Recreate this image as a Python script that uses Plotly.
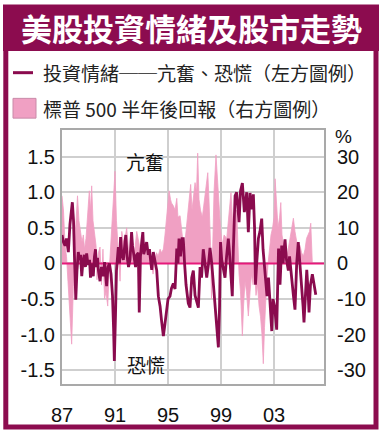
import plotly.graph_objects as go

# ---------------- data ----------------
sent_years = [1987.00, 1987.11, 1987.23, 1987.34, 1987.48, 1987.60, 1987.78, 1987.87, 1987.94, 1988.04,
              1988.13, 1988.23, 1988.32, 1988.40, 1988.49, 1988.58, 1988.68, 1988.77, 1988.86, 1988.96,
              1989.08, 1989.15, 1989.23, 1989.36, 1989.45, 1989.53, 1989.60, 1989.68, 1989.75, 1989.87,
              1989.98, 1990.12, 1990.21, 1990.28, 1990.37, 1990.47, 1990.58, 1990.70, 1990.81, 1990.89,
              1990.95, 1991.04, 1991.11, 1991.25, 1991.34, 1991.42, 1991.51, 1991.63, 1991.72, 1991.81,
              1991.91, 1992.02, 1992.13, 1992.25, 1992.32, 1992.43, 1992.55, 1992.64, 1992.76, 1992.83,
              1992.92, 1993.02, 1993.10, 1993.17, 1993.26, 1993.39, 1993.51, 1993.60, 1993.68, 1993.77,
              1993.89, 1994.02, 1994.15, 1994.27, 1994.40, 1994.51, 1994.65, 1994.77, 1994.89, 1995.00,
              1995.15, 1995.26, 1995.40, 1995.53, 1995.66, 1995.75, 1995.83, 1995.94, 1996.06, 1996.15,
              1996.25, 1996.36, 1996.53, 1996.66, 1996.79, 1996.91, 1997.04, 1997.17, 1997.29, 1997.42,
              1997.53, 1997.66, 1997.79, 1997.92, 1998.06, 1998.17, 1998.30, 1998.43, 1998.55, 1998.68,
              1998.80, 1998.89, 1998.96, 1999.05, 1999.19, 1999.30, 1999.42, 1999.55, 1999.64, 1999.72,
              1999.85, 1999.93, 2000.00, 2000.06, 2000.18, 2000.26, 2000.36, 2000.47, 2000.61, 2000.76,
              2000.94, 2001.06, 2001.19, 2001.32, 2001.44, 2001.53, 2001.60, 2001.69, 2001.82, 2001.94,
              2002.07, 2002.17, 2002.32, 2002.47, 2002.58, 2002.70, 2002.83, 2002.92, 2003.04, 2003.20,
              2003.29, 2003.34, 2003.45, 2003.58, 2003.68, 2003.83, 2003.94, 2004.08, 2004.17, 2004.34,
              2004.46, 2004.58, 2004.71, 2004.83, 2004.96, 2005.09, 2005.19, 2005.26, 2005.38, 2005.47,
              2005.57, 2005.64, 2005.75, 2005.89, 2005.98, 2006.15]
sentiment = [0.40, 0.30, 0.25, 0.35, 0.16, 0.55, 0.86, 0.60, 0.10, -0.51,
             -0.10, 0.16, 0.05, 0.12, -0.18, 0.03, 0.12, -0.05, 0.14, -0.02,
             0.05, -0.20, 0.00, -0.18, 0.10, 0.20, -0.05, 0.08, -0.10, -0.25,
             -0.05, -0.18, 0.02, -0.12, -0.32, -0.05, 0.00, -0.15, -0.45, -0.90,
             -1.37, -0.70, -0.10, 0.23, 0.00, 0.37, 0.12, 0.05, 0.30, 0.40,
             0.10, -0.05, 0.05, 0.44, 0.25, 0.10, -0.05, 0.12, 0.15, -0.69,
             0.10, 0.31, 0.44, 0.13, 0.20, 0.30, 0.12, 0.20, 0.05, -0.09,
             0.16, 0.00, -0.10, -0.46, -0.60, -0.80, -1.02, -0.85, -0.65, -0.50,
             -0.46, -0.35, -0.28, -0.36, 0.21, 0.00, 0.35, 0.10, 0.35, 0.35,
             0.00, -0.30, -0.56, -0.62, -0.20, -0.10, -0.45, -0.56, -0.62, -0.05,
             -0.20, 0.20, 0.00, -0.20, 0.00, 0.22, 0.00, -0.30, -0.56, -0.90,
             -1.18, -0.60, 0.30, 0.05, -0.10, -0.20, 0.10, 0.35, 0.15, -0.10,
             -0.46, 0.20, 0.69, 0.95, 1.00, 0.73, 0.58, 1.02, 1.13, 0.72,
             1.00, 0.44, 0.99, 0.76, 0.97, 0.50, -0.30, 0.00, 0.35, 0.45,
             0.63, 0.20, -0.10, -0.46, -0.20, -0.60, -0.95, -0.50, -0.60, -0.93,
             -0.40, 0.21, -0.30, 0.25, 0.00, 0.34, 0.05, -0.10, 0.10, -0.30,
             -0.45, -0.65, 0.00, 0.30, 0.00, -0.30, -0.60, -0.83, -0.30, -0.09,
             -0.40, -0.69, -0.30, -0.15, -0.25, -0.44]

ret_years = [1987.00, 1987.11, 1987.23, 1987.34, 1987.45, 1987.60, 1987.73, 1987.83, 1987.94, 1988.06,
             1988.17, 1988.28, 1988.40, 1988.51, 1988.61, 1988.70, 1988.81, 1988.92, 1989.06, 1989.15,
             1989.24, 1989.34, 1989.45, 1989.57, 1989.64, 1989.75, 1989.87, 1989.98, 1990.09, 1990.21,
             1990.32, 1990.45, 1990.55, 1990.62, 1990.74, 1990.85, 1991.00, 1991.11, 1991.25, 1991.38,
             1991.51, 1991.64, 1991.75, 1991.88, 1992.02, 1992.13, 1992.26, 1992.36, 1992.47, 1992.64,
             1992.77, 1992.89, 1993.00, 1993.11, 1993.26, 1993.42, 1993.53, 1993.64, 1993.87, 1994.02,
             1994.13, 1994.25, 1994.40, 1994.51, 1994.65, 1994.77, 1994.89, 1995.00, 1995.08, 1995.19,
             1995.26, 1995.40, 1995.53, 1995.66, 1995.75, 1995.91, 1996.02, 1996.13, 1996.23, 1996.32,
             1996.41, 1996.51, 1996.62, 1996.71, 1996.81, 1996.92, 1997.04, 1997.15, 1997.24, 1997.34,
             1997.45, 1997.59, 1997.72, 1997.83, 1998.00, 1998.09, 1998.21, 1998.28, 1998.37, 1998.47,
             1998.62, 1998.74, 1998.85, 1998.96, 1999.08, 1999.23, 1999.43, 1999.57, 1999.75, 1999.87,
             1999.98, 2000.09, 2000.18, 2000.28, 2000.36, 2000.47, 2000.61, 2000.70, 2000.81, 2000.92,
             2001.06, 2001.19, 2001.30, 2001.42, 2001.53, 2001.64, 2001.75, 2001.87, 2001.98, 2002.09,
             2002.19, 2002.28, 2002.36, 2002.45, 2002.55, 2002.66, 2002.77, 2002.89, 2003.00, 2003.08,
             2003.19, 2003.30, 2003.42, 2003.51, 2003.60, 2003.72, 2003.83, 2003.98, 2004.13, 2004.28,
             2004.46, 2004.58, 2004.70, 2004.81, 2004.96, 2005.08, 2005.21, 2005.34, 2005.45, 2005.57,
             2005.68, 2005.77, 2005.83, 2005.89]
sp500_6m_return = [19, 15, 5, 2, -5, -15, -22.7, -10, 5, 12,
                   19, 12, 9, 6, 8, 4, 7, 14, 20.4, 15,
                   21.8, 12, 8, 5, -4.6, 3, 4.6, -6, 4, -10,
                   -8, -12, -3, 1, 8, 15, 25.9, 12, 4, -5,
                   9, 6, 7, 10, 4, 2, 8, 5, 3, 9,
                   6, 4, 2, 5, 6, 3, 4, 3, -3, 1,
                   3, 2, 4, 3, 4, 8, 13, 16, 20.4, 18,
                   17, 16.2, 15, 18.3, 13, 13.4, 9, 6, 4.2, 8,
                   10, 15, 20, 22.2, 15, 18, 22.7, 20, 31, 18,
                   15, 13, 17, 20, 25.5, 18, 5, -10, 10, 20,
                   30.5, 22, 15, 10, 5, 8, 7, 12, 19.9, 12,
                   8, 12, 15, 5, -3, -8, -20.4, -12, -5, -8,
                   -14.8, -8, -3, -6, -2, -9, -6, -12, -15, -20,
                   -28.2, -18, -10, -5, 0, 5, 8, 10, 13, 23.8,
                   15, 10, 13, 17.1, 8, 5, 3, 2, 5, 8,
                   12.7, 9, 6, 4, 5, 3, 2, 4, 7, 8,
                   9, 11.3, 5, 0]

x_tick_vals = [1987, 1991, 1995, 1999, 2003]
x_tick_text = ["87", "91", "95", "99", "03"]
left_tick_vals = [1.5, 1.0, 0.5, 0, -0.5, -1.0, -1.5]
left_tick_text = ["1.5", "1.0", "0.5", "0", "-0.5", "-1.0", "-1.5"]
right_tick_vals = [30, 20, 10, 0, -10, -20, -30]
right_tick_text = ["30", "20", "10", "0", "-10", "-20", "-30"]
x_range = [1987, 2006.77]
left_range = [-1.694, 1.875]
right_range = [-33.9, 37.5]

title_text = "美股投資情緒及股市走勢"
legend1_text = "投資情緒──亢奮、恐慌（左方圖例）"
legend2_text = "標普 500 半年後回報（右方圖例）"
label_high = "亢奮"
label_low = "恐慌"

# ---------------- style ----------------
W, H = 383, 438
L, R, T, B = 62, 324, 130, 387
MAROON = "#8C0C4F"
LINE = "#8A0B4E"
PINK = "#F0A0C3"
ZERO = "#E6187A"
GRID = "#CFCFCF"
CJK = "Noto Sans CJK TC"
NUM = "Liberation Sans, Arial, sans-serif"


def px(x):
    return (x - L) / (R - L)


def py(y):
    return (B - y) / (B - T)


fig = go.Figure()

# pink area (right axis -> base y)
fig.add_trace(go.Scatter(x=ret_years, y=sp500_6m_return, mode="lines", fill="tozeroy",
                         fillcolor=PINK, line=dict(color=PINK, width=0.8),
                         yaxis="y", hoverinfo="skip", showlegend=False))
# zero reference line (across full axis range)
fig.add_trace(go.Scatter(x=x_range, y=[0, 0], mode="lines", line=dict(color=ZERO, width=2),
                         yaxis="y2", hoverinfo="skip", showlegend=False))
# sentiment line (left axis -> y2 overlaying)
fig.add_trace(go.Scatter(x=sent_years, y=sentiment, mode="lines",
                         line=dict(color=LINE, width=2.8),
                         yaxis="y2", hoverinfo="skip", showlegend=False))

shapes = [
    # outer frame
    dict(type="rect", xref="paper", yref="paper", x0=px(5.8), x1=px(376), y0=py(430.5), y1=py(8),
         line=dict(color=MAROON, width=5), fillcolor="rgba(0,0,0,0)", layer="below"),
    # title bar
    dict(type="rect", xref="paper", yref="paper", x0=px(3), x1=px(379), y0=py(50), y1=py(3),
         line=dict(width=0), fillcolor=MAROON, layer="below"),
    # legend dash
    dict(type="line", xref="paper", yref="paper", x0=px(13), x1=px(33), y0=py(72), y1=py(72),
         line=dict(color=LINE, width=3)),
    # legend pink square
    dict(type="rect", xref="paper", yref="paper", x0=px(13), x1=px(36), y0=py(118), y1=py(98),
         line=dict(color="#C98AA8", width=1), fillcolor=PINK),
]

annotations = [
    dict(text=f"<b>{title_text}</b>", xref="paper", yref="paper", x=px(191), y=py(26),
         xanchor="center", yanchor="middle", showarrow=False,
         font=dict(family=CJK, size=31, color="white")),
    dict(text=legend1_text, xref="paper", yref="paper", x=px(41), y=py(72),
         xanchor="left", yanchor="middle", showarrow=False,
         font=dict(family=CJK, size=19, color="#222222")),
    dict(text=legend2_text, xref="paper", yref="paper", x=px(41), y=py(108),
         xanchor="left", yanchor="middle", showarrow=False,
         font=dict(family=CJK, size=19, color="#222222")),
    dict(text=label_high, xref="paper", yref="paper", x=px(145), y=py(162),
         xanchor="center", yanchor="middle", showarrow=False,
         font=dict(family=CJK, size=19, color="#111111")),
    dict(text=label_low, xref="paper", yref="paper", x=px(146), y=py(367),
         xanchor="center", yanchor="middle", showarrow=False,
         font=dict(family=CJK, size=19, color="#111111")),
    dict(text="%", xref="paper", yref="paper", x=px(343), y=py(137),
         xanchor="center", yanchor="middle", showarrow=False,
         font=dict(family=NUM, size=19, color="#111111")),
]

fig.update_layout(
    width=W, height=H,
    margin=dict(l=L, r=W - R, t=T, b=H - B, pad=0),
    paper_bgcolor="white", plot_bgcolor="white",
    showlegend=False,
    shapes=shapes, annotations=annotations,
    xaxis=dict(range=x_range, tickvals=x_tick_vals, ticktext=x_tick_text,
               showgrid=True, gridcolor=GRID, gridwidth=2, zeroline=False,
               showline=True, linecolor="#A9A9A9", linewidth=2, mirror=True,
               ticks="", ticklabelstandoff=12,
               tickfont=dict(family=NUM, size=20, color="#111111")),
    yaxis=dict(range=right_range, side="right", tickvals=right_tick_vals, ticktext=right_tick_text,
               showgrid=True, gridcolor=GRID, gridwidth=2, zeroline=False,
               showline=True, linecolor="#A9A9A9", linewidth=2, mirror=True,
               ticks="", ticklabelstandoff=7,
               tickfont=dict(family=NUM, size=20, color="#111111")),
    yaxis2=dict(range=left_range, side="left", overlaying="y", tickvals=left_tick_vals,
                ticktext=left_tick_text, showgrid=False, zeroline=False, showline=False,
                ticks="", ticklabelstandoff=6,
                tickfont=dict(family=NUM, size=20, color="#111111")),
)

fig.write_html("out.html", config={"displayModeBar": False},
               post_script="document.body.style.margin='0px';")
